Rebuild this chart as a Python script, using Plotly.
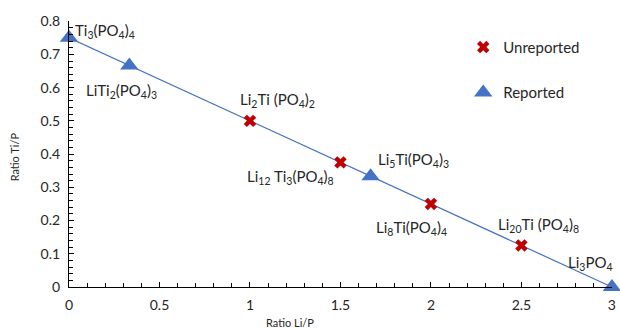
import plotly.graph_objects as go

# Data
reported_x = [0, 1/3, 5/3, 3]
reported_y = [0.75, 2/3, 1/3, 0]
reported_labels = ["Ti<sub>3</sub>(PO<sub>4</sub>)<sub>4</sub>",
                   "LiTi<sub>2</sub>(PO<sub>4</sub>)<sub>3</sub>",
                   "Li<sub>5</sub>Ti(PO<sub>4</sub>)<sub>3</sub>",
                   "Li<sub>3</sub>PO<sub>4</sub>"]
unreported_x = [1, 1.5, 2, 2.5]
unreported_y = [0.5, 0.375, 0.25, 0.125]
unreported_labels = ["Li<sub>2</sub>Ti (PO<sub>4</sub>)<sub>2</sub>",
                     "Li<sub>12</sub> Ti<sub>3</sub>(PO<sub>4</sub>)<sub>8</sub>",
                     "Li<sub>8</sub>Ti(PO<sub>4</sub>)<sub>4</sub>",
                     "Li<sub>20</sub>Ti (PO<sub>4</sub>)<sub>8</sub>"]
x_ticks = [0, 0.5, 1, 1.5, 2, 2.5, 3]
x_ticktext = ["0", "0.5", "1", "1.5", "2", "2.5", "3"]
y_ticks = [0, 0.1, 0.2, 0.3, 0.4, 0.5, 0.6, 0.7, 0.8]
y_ticktext = ["0", "0.1", "0.2", "0.3", "0.4", "0.5", "0.6", "0.7", "0.8"]

FONT = "Lato, Liberation Sans, sans-serif"
BLUE = "#4472C4"
RED = "#C00000"
TXT = "#262626"

pts = sorted(zip(reported_x + unreported_x, reported_y + unreported_y))
line_x = [p[0] for p in pts]
line_y = [p[1] for p in pts]

fig = go.Figure()
fig.add_trace(go.Scatter(x=line_x, y=line_y, mode="lines",
                         line=dict(color=BLUE, width=1.2), showlegend=False, hoverinfo="skip"))
fig.add_trace(go.Scatter(x=unreported_x, y=unreported_y, mode="markers", name="Unreported",
                         legendgroup="u", cliponaxis=False,
                         marker=dict(symbol="x", color=RED, size=11, line=dict(width=0))))
fig.add_trace(go.Scatter(x=reported_x, y=reported_y, mode="markers", name="Reported",
                         legendgroup="r", cliponaxis=False,
                         marker=dict(symbol="triangle-up", color=BLUE, size=16, line=dict(width=0))))

rep_off = [(4, 7), (-45, -26), (5, 16), (-46, 24)]
unrep_off = [(-12, 21), (-95, -15), (-57, -24), (-25, 20)]
for x, y, t, (dx, dy) in zip(reported_x, reported_y, reported_labels, rep_off):
    fig.add_annotation(x=x, y=y, text=t, showarrow=False, xanchor="left", yanchor="middle",
                       xshift=dx, yshift=dy, font=dict(family=FONT, size=15, color=TXT))
for x, y, t, (dx, dy) in zip(unreported_x, unreported_y, unreported_labels, unrep_off):
    fig.add_annotation(x=x, y=y, text=t, showarrow=False, xanchor="left", yanchor="middle",
                       xshift=dx, yshift=dy, font=dict(family=FONT, size=15, color=TXT))

# axis titles
fig.add_annotation(x=0.407, y=-0.132, xref="paper", yref="paper", text="Ratio Li/P",
                   showarrow=False, xanchor="center", yanchor="middle",
                   font=dict(family=FONT, size=11, color=TXT))
fig.add_annotation(x=-0.1, y=0.49, xref="paper", yref="paper", text="Ratio Ti/P",
                   showarrow=False, xanchor="center", yanchor="middle", textangle=-90,
                   font=dict(family=FONT, size=11, color=TXT))

fig.update_layout(
    width=620, height=328,
    margin=dict(l=69, r=8, t=21, b=41),
    plot_bgcolor="white", paper_bgcolor="white",
    font=dict(family=FONT, size=14, color=TXT),
    legend=dict(x=0.726, y=0.963, xanchor="left", yanchor="top", tracegroupgap=23,
                font=dict(family=FONT, size=15, color=TXT), bgcolor="rgba(0,0,0,0)"),
    xaxis=dict(range=[0, 3.0005], tickvals=x_ticks, ticktext=x_ticktext, showgrid=False, zeroline=False,
               showline=True, linecolor="black", linewidth=1.2, automargin=False,
               ticks="inside", ticklen=5, tickcolor="black", ticklabelstandoff=5,
               minor=dict(dtick=0.1, ticks="inside", ticklen=4, tickcolor="black"),
               tickfont=dict(size=14, color=TXT)),
    yaxis=dict(range=[0, 0.8005], tickvals=y_ticks, ticktext=y_ticktext, showgrid=False, zeroline=False,
               showline=True, linecolor="black", linewidth=1.2, automargin=False,
               ticks="inside", ticklen=5, tickcolor="black", ticklabelstandoff=5,
               minor=dict(dtick=0.02, ticks="inside", ticklen=4, tickcolor="black"),
               tickfont=dict(size=14, color=TXT)),
)
fig.write_html("out.html", config={"displayModeBar": False},
               post_script="document.body.style.margin='0';document.body.style.overflow='hidden';")
